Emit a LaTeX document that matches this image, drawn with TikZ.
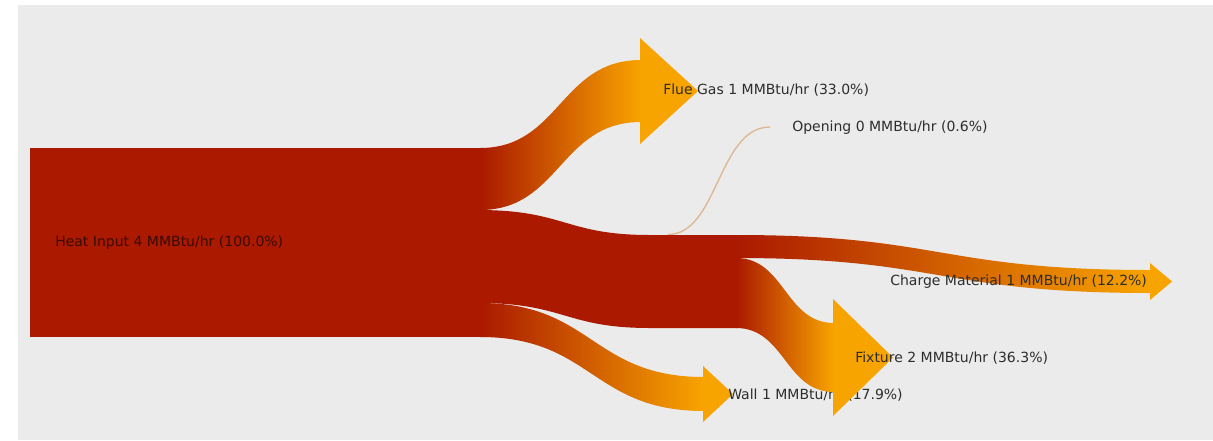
\documentclass[tikz,border=0pt]{standalone}
\usepackage{fontspec}
\newfontfamily\lblfont{DejaVu Sans}
\definecolor{bgc}{RGB}{235,235,235}
\definecolor{hred}{RGB}{170,25,0}
\definecolor{horange}{RGB}{248,164,0}
\definecolor{opc}{RGB}{222,182,145}
\definecolor{txt}{RGB}{45,45,45}
\definecolor{txtred}{RGB}{55,12,0}
\tikzset{
 lbl/.style={anchor=west, inner sep=0pt, font=\lblfont\fontsize{10.5}{12}\selectfont, text=txt},
 band/.style={left color=hred, right color=horange, draw=none},
 headtip/.style={fill=horange, draw=none},
 openline/.style={draw=opc, line width=1pt}
}
\begin{document}
\begin{tikzpicture}[x=0.75pt,y=-0.75pt]
\useasboundingbox (0,0) rectangle (1213,440);
\fill[white] (0,0) rectangle (1213,440);
\fill[bgc] (18,5) rectangle (1213,440);

% source block
\node[fill=hred, inner sep=0pt, minimum width=338.25pt, minimum height=141.75pt, anchor=north west] (heatbox) at (30,148) {};

% flue gas
\path[band] (480,148) .. controls (560,148) and (560,60) .. (641,60) -- (641,122) .. controls (560,122) and (560,210) .. (480,210) -- cycle;
\path[headtip] (640,38) -- (698,91) -- (640,144) -- cycle;
\node[lbl] (flue) at (663,90) {Flue Gas 1 MMBtu/hr (33.0\%)};

% opening
\node[lbl] (open) at (792,128) {Opening 0 MMBtu/hr (0.6\%)};
\coordinate (openstart) at (668,234.5);
\coordinate (openend) at (770,127);
\draw[openline] (openstart) .. controls (718,234.5) and (718,127) .. (openend);

% trunk
\fill[hred] (478,210) .. controls (565,210) and (565,235) .. (650,235) -- (737,235) -- (737,328) -- (650,328) .. controls (565,328) and (565,303) .. (478,303) -- cycle;

% charge material
\path[band] (736,235) .. controls (940,235) and (940,270) .. (1151,270) -- (1151,293) .. controls (940,293) and (940,258) .. (736,258) -- cycle;
\path[headtip] (1150,263) -- (1172,281.5) -- (1150,300) -- cycle;
\node[lbl] (charge) at (890,282) {Charge Material 1 MMBtu/hr (12.2\%)};

% wall
\path[band] (480,303) .. controls (592,303) and (592,377) .. (704,377) -- (704,411) .. controls (592,411) and (592,337) .. (480,337) -- cycle;
\path[headtip] (703,366) -- (733,394) -- (703,422) -- cycle;
\node[lbl] (wall) at (728,395) {Wall 1 MMBtu/hr (17.9\%)};

% fixture
\path[band] (736,258) .. controls (785,258) and (785,323) .. (834,323) -- (834,392) .. controls (785,392) and (785,328) .. (736,328) -- cycle;
\path[headtip] (833,299) -- (893,357.5) -- (833,416) -- cycle;
\node[lbl] (fixture) at (855,358) {Fixture 2 MMBtu/hr (36.3\%)};

% source label
\node[lbl, text=txtred] (heat) at (55,243) {Heat Input 4 MMBtu/hr (100.0\%)};
\end{tikzpicture}
\end{document}
